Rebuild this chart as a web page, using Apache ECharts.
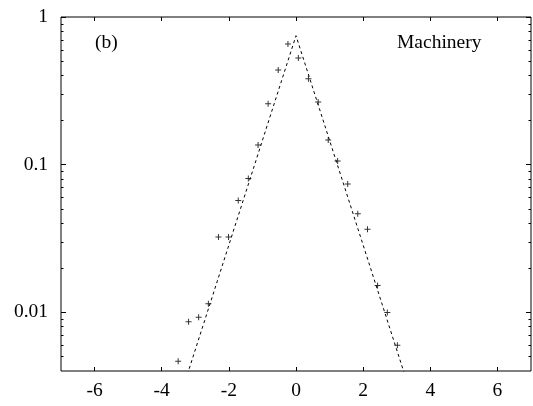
<!DOCTYPE html>
<html>
<head>
<meta charset="utf-8">
<script src="https://cdn.jsdelivr.net/npm/echarts@6/dist/echarts.min.js"></script>
<style>
html,body{margin:0;padding:0;background:#fff;}
#chart{width:533px;height:406px;}
</style>
</head>
<body>
<div id="chart"></div>
<script>
// Data points (+ markers)
var xs = [-3.51, -3.20, -2.90, -2.61, -2.31, -2.01, -1.72, -1.42, -1.13, -0.83, -0.53, -0.24,
          0.07, 0.37, 0.66, 0.96, 1.24, 1.54, 1.84, 2.13, 2.43, 2.72, 3.02];
var ys = [0.00466, 0.00861, 0.00925, 0.0114, 0.0324, 0.0324, 0.0571, 0.0804, 0.136, 0.258, 0.438, 0.657,
          0.528, 0.382, 0.266, 0.147, 0.106, 0.074, 0.0464, 0.0365, 0.0152, 0.00995, 0.00598];
// Dashed fit line (straight in log space)
var fitX = [-3.40, 0.0, 3.40];
var fitY = [0.0029, 0.747, 0.0029];
// Axis ticks
var xTicks = [-6, -4, -2, 0, 2, 4, 6];
var yMajor = [0.01, 0.1, 1];
var yMajorLabels = ['0.01', '0.1', '1'];
var yMinor = [0.005, 0.006, 0.007, 0.008, 0.009, 0.02, 0.03, 0.04, 0.05, 0.06, 0.07, 0.08, 0.09,
              0.2, 0.3, 0.4, 0.5, 0.6, 0.7, 0.8, 0.9];
var panelLabel = '(b)';
var titleLabel = 'Machinery';

var FONT = '"Liberation Serif", "DejaVu Serif", serif';
var FS = 19.5;

function yAxisDef(pos, ticks, len, labels) {
  return {
    type: 'log', min: 0.004, max: 1, position: pos, logBase: 10, offset: 0,
    axisLine: {show: false, onZero: false},
    splitLine: {show: false},
    minorTick: {show: false},
    axisTick: {show: true, inside: true, length: len, customValues: ticks,
               lineStyle: {color: '#000', width: 1}},
    axisLabel: labels ? {
      show: true, customValues: yMajor, margin: 13,
      fontFamily: FONT, fontSize: FS, color: '#000',
      formatter: function (v) {
        for (var i = 0; i < yMajor.length; i++) {
          if (Math.abs(v - yMajor[i]) < 1e-9) return yMajorLabels[i];
        }
        return '';
      }
    } : {show: false}
  };
}

function xAxisDef(pos, labels) {
  return {
    type: 'value', min: -7, max: 7, position: pos, offset: 0,
    axisLine: {show: false, onZero: false},
    splitLine: {show: false},
    axisTick: {show: true, inside: true, length: 4, customValues: xTicks,
               lineStyle: {color: '#000', width: 1}},
    axisLabel: labels ? {
      show: true, customValues: xTicks, margin: 10,
      fontFamily: FONT, fontSize: FS, color: '#000'
    } : {show: false}
  };
}

var plusPath = 'path://M0,2.5H6V3.5H0ZM2.5,0H3.5V6H2.5Z';

var chart = echarts.init(document.getElementById('chart'), null, {renderer: 'canvas'});
chart.setOption({
  animation: false,
  backgroundColor: '#fff',
  grid: {left: 61, right: 2, top: 17, bottom: 35, show: true,
         borderColor: '#000', borderWidth: 1, backgroundColor: 'transparent'},
  xAxis: [xAxisDef('bottom', true), xAxisDef('top', false)],
  yAxis: [
    yAxisDef('left', yMajor, 5, true),
    yAxisDef('left', yMinor, 2.5, false),
    yAxisDef('right', yMajor, 5, false),
    yAxisDef('right', yMinor, 2.5, false)
  ],
  graphic: [
    {type: 'text', left: 95, top: 33, style: {text: panelLabel, font: FS + 'px ' + FONT, fill: '#000'}},
    {type: 'text', left: 397, top: 33, style: {text: titleLabel, font: FS + 'px ' + FONT, fill: '#000'}}
  ],
  series: [
    {
      type: 'line', xAxisIndex: 0, yAxisIndex: 0,
      data: fitX.map(function (x, i) { return [x, fitY[i]]; }),
      showSymbol: false, symbol: 'none', clip: true,
      lineStyle: {color: '#000', width: 1, type: [3, 3]},
      silent: true, z: 2
    },
    {
      type: 'scatter', xAxisIndex: 0, yAxisIndex: 0,
      data: xs.map(function (x, i) { return [x, ys[i]]; }),
      symbol: plusPath, symbolSize: 6,
      itemStyle: {color: '#000'},
      silent: true, z: 3
    }
  ]
});
</script>
</body>
</html>
